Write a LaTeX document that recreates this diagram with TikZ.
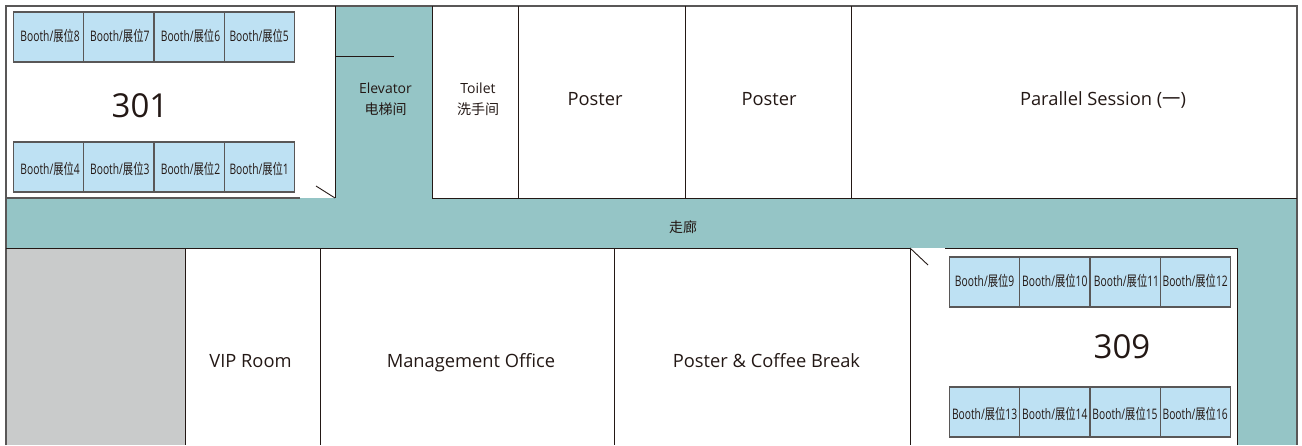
\documentclass[tikz,border=0pt]{standalone}
\usepackage{fontspec}
\setmainfont{Open Sans}
\newfontfamily\cjk{Noto Sans CJK SC}
\usetikzlibrary{positioning}
\definecolor{hallc}{HTML}{95C5C6}
\definecolor{boothc}{HTML}{BEE1F3}
\definecolor{greyc}{HTML}{C9CBCB}
\definecolor{wallc}{HTML}{595757}
\definecolor{inkc}{HTML}{231815}
\tikzstyle{booth}=[rectangle, draw=wallc, fill=boothc, line width=1.2pt, outer sep=0pt, inner sep=0pt, minimum width=70.2pt, minimum height=50pt, text=inkc]
\tikzstyle{room}=[rectangle, outer sep=0pt, inner sep=0pt]
\tikzstyle{roomtext}=[text=inkc, inner sep=0pt, anchor=base, font=\fontsize{18.3}{22}\selectfont]
\tikzstyle{smalltext}=[text=inkc, inner sep=0pt, align=center, font=\fontsize{14}{21.5}\selectfont]
\tikzstyle{hall}=[rectangle, fill=hallc, outer sep=0pt, inner sep=0pt]
\tikzstyle{hallno}=[text=inkc, font=\fontsize{33}{36}\selectfont, inner sep=0pt]
\tikzstyle{wall}=[-, draw=inkc, line width=0.9pt]
\tikzstyle{owall}=[-, draw=wallc, line width=1.2pt]
\newcommand{\boothtext}[2][-4pt]{\raisebox{#1}[0pt][0pt]{\scalebox{0.71}[1]{\fontsize{14.5}{16}\selectfont Booth/{\cjk 展位}#2}}}
\begin{document}
\begin{tikzpicture}[x=1pt,y=-1pt,node distance=0pt]
\useasboundingbox (0,0) rectangle (1302,445);
% corridor
\node (ELEV) [hall,anchor=north west,minimum width=97pt,minimum height=192pt] at (335,6) {};
\node (HALL) [hall,anchor=north west,minimum width=1291pt,minimum height=50pt] at (6,198) {};
\node (EAST) [hall,anchor=north west,minimum width=59.5pt,minimum height=197pt] at (1237.5,248) {};
\node (ELEVT) [smalltext] at (385.5,99) {Elevator\\{\cjk 电梯间}};
\node (HALLT) [smalltext] at (683,227) {\cjk 走廊};
% upper rooms
\node (TOILET) [room,anchor=north west,minimum width=86.8pt,minimum height=192pt] at (432,6) {};
\node (POST1) [room,minimum width=167pt,minimum height=192pt,right=of TOILET] {};
\node (POST2) [room,minimum width=166pt,minimum height=192pt,right=of POST1] {};
\node (PARA) [room,minimum width=445.2pt,minimum height=192pt,right=of POST2] {};
\node (TOILETT) [smalltext] at (478,99) {Toilet\\{\cjk 洗手间}};
\node (POST1T) [roomtext] at (595,105) {Poster};
\node (POST2T) [roomtext] at (769,105) {Poster};
\node (PARAT) [roomtext] at (1103,105) {Parallel Session ({\cjk 一})};
% lower rooms
\node (BLOCK) [room,fill=greyc,anchor=north west,minimum width=179.8pt,minimum height=197pt] at (6,248) {};
\node (VIP) [room,minimum width=134.2pt,minimum height=197pt,right=of BLOCK] {};
\node (MGMT) [room,minimum width=294pt,minimum height=197pt,right=of VIP] {};
\node (COFFEE) [room,minimum width=296pt,minimum height=197pt,right=of MGMT] {};
\node (R309) [room,minimum width=327.5pt,minimum height=197pt,right=of COFFEE] {};
\node (VIPT) [roomtext] at (250.5,367) {VIP Room};
\node (MGMTT) [roomtext] at (471,367) {Management Office};
\node (COFFEET) [roomtext] at (766.5,367) {Poster \& Coffee Break};
% walls
\draw[owall] (BLOCK.south west) -- (6,6) -- (1297,6) -- (1297,445);
\draw[owall] (6,198) -- (300,198);
\draw[wall] (335,6) -- (ELEV.south west);
\draw[wall] (335,56) -- (394,56);
\draw[wall] (335,198) -- (316,186);
\draw[wall] (TOILET.north west) -- (TOILET.south west) -- (PARA.south east);
\draw[wall] (TOILET.north east) -- (TOILET.south east);
\draw[wall] (POST1.north east) -- (POST1.south east);
\draw[wall] (POST2.north east) -- (POST2.south east);
\draw[wall] (BLOCK.north west) -- (R309.north west);
\draw[wall] (BLOCK.north east) -- (BLOCK.south east);
\draw[wall] (VIP.north east) -- (VIP.south east);
\draw[wall] (MGMT.north east) -- (MGMT.south east);
\draw[wall] (COFFEE.north east) -- (COFFEE.south east);
\draw[wall] (945,248) -- (R309.north east) -- (R309.south east);
\draw[wall] (R309.north west) -- (928,265);
% booths 301
\node (B8) [booth,anchor=north west] at (13.5,12) {\kern3pt\boothtext{8}};
\node (B7) [booth,right=of B8] {\kern2pt\boothtext{7}};
\node (B6) [booth,right=of B7] {\kern3pt\boothtext{6}};
\node (B5) [booth,right=of B6] {\boothtext{5}};
\node (B4) [booth,anchor=north west] at (13.5,142) {\kern3pt\boothtext[-7pt]{4}};
\node (B3) [booth,right=of B4] {\kern2pt\boothtext[-7pt]{3}};
\node (B2) [booth,right=of B3] {\kern3pt\boothtext[-7pt]{2}};
\node (B1) [booth,right=of B2] {\boothtext[-7pt]{1}};
\node (R301T) [hallno] at (140,106) {301};
% booths 309
\node (B9) [booth,anchor=north west] at (949.5,257) {\boothtext{9}};
\node (B10) [booth,right=of B9] {\boothtext{10}};
\node (B11) [booth,right=of B10] {\kern3pt\boothtext{11}};
\node (B12) [booth,right=of B11] {\boothtext{12}};
\node (B13) [booth,anchor=north west] at (949.5,387) {\boothtext[-7pt]{13}};
\node (B14) [booth,right=of B13] {\boothtext[-7pt]{14}};
\node (B15) [booth,right=of B14] {\boothtext[-7pt]{15}};
\node (B16) [booth,right=of B15] {\boothtext[-7pt]{16}};
\node (R309T) [hallno] at (1122,347) {309};
\end{tikzpicture}
\end{document}
